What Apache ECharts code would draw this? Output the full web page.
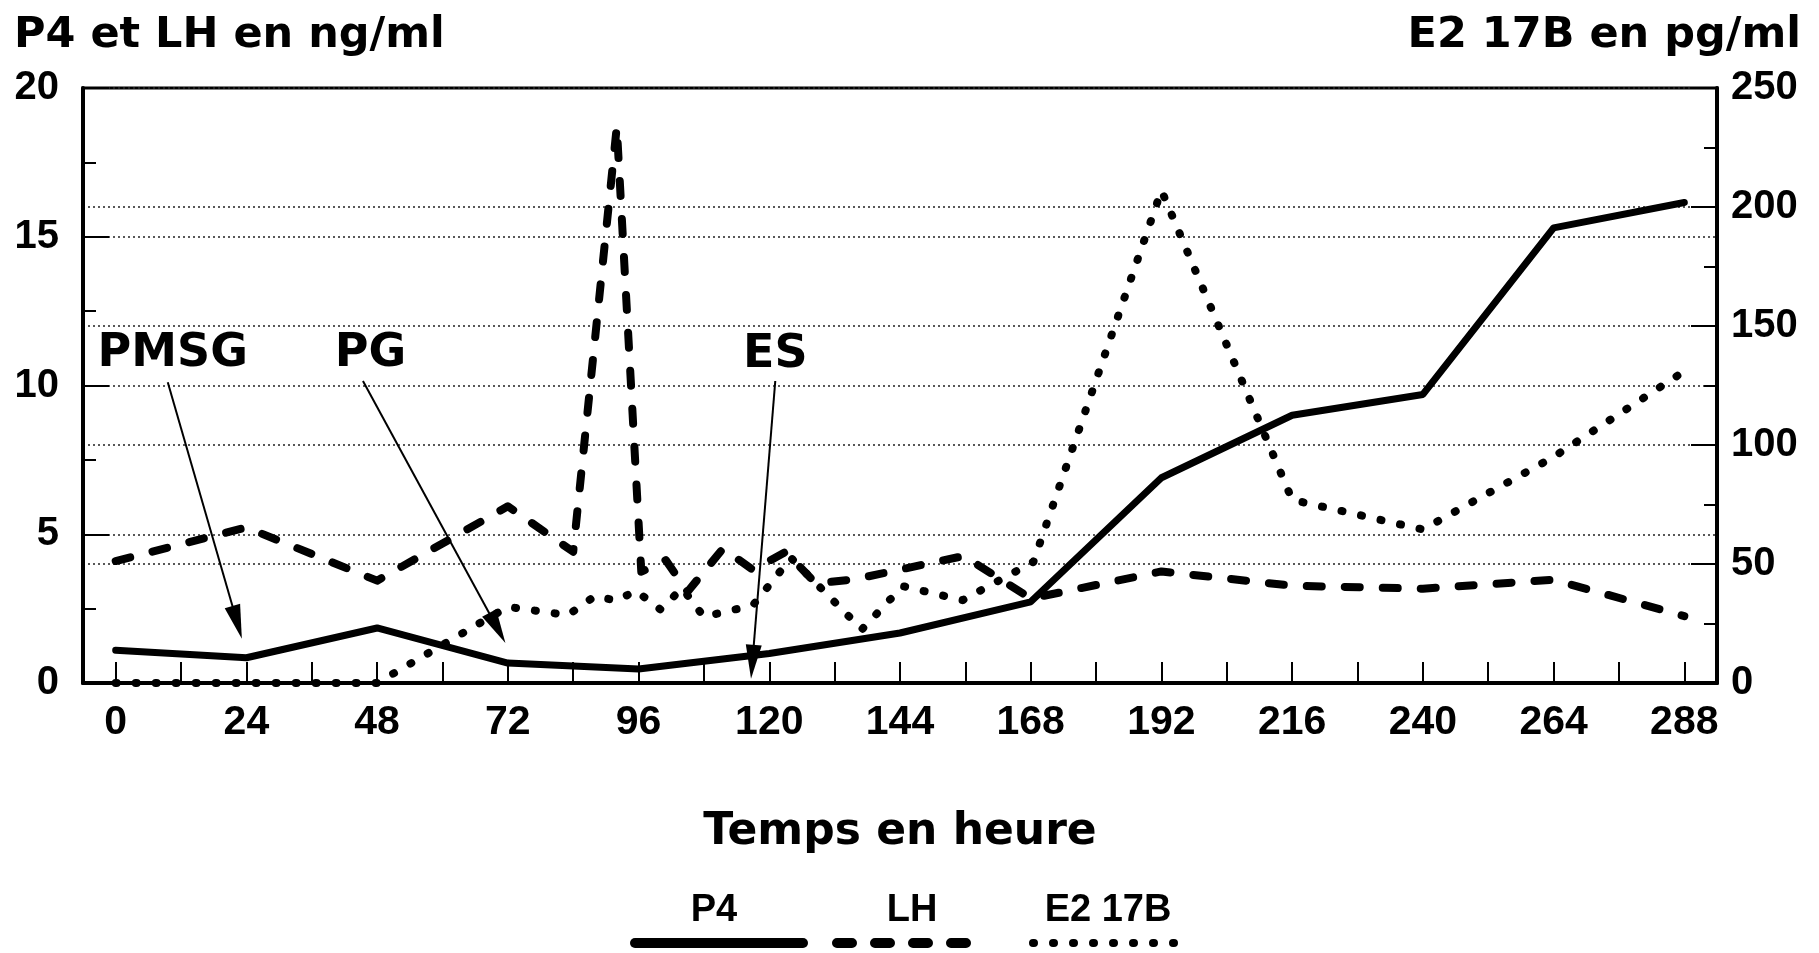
<!DOCTYPE html>
<html>
<head>
<meta charset="utf-8">
<script src="https://cdn.jsdelivr.net/npm/echarts@6/dist/echarts.min.js"></script>
<style>html,body{margin:0;padding:0;background:#fff}#c{width:1819px;height:953px}</style>
</head>
<body>
<div id="c"></div>
<script>
// ---- data ----
const tickHours = [0,12,24,36,48,60,72,84,96,108,120,132,144,156,168,180,192,204,216,228,240,252,264,276,288];
const labelHours = [0,24,48,72,96,120,144,168,192,216,240,264,288];

const p4Hours  = [0,24,48,72,96,120,144,168,192,216,240,264,288];
const p4Values = [1.1,0.85,1.85,0.67,0.47,0.99,1.68,2.73,6.9,9.0,9.7,15.3,16.15];

const lhHours  = [0,24,48,72,84,92,96.5,101,105,111.5,117,123,128.5,135.5,155.7,168,192,216,240,264,288];
const lhValues = [4.1,5.23,3.44,5.94,4.41,18.7,3.74,4.13,3.07,4.52,3.8,4.41,3.35,3.48,4.27,2.84,3.75,3.27,3.17,3.47,2.25];

const e2Hours  = [0,48,72,83,88,92,95.5,100,104,108,117,124,137,144.5,155.5,168.5,192,216,240,264,288];
const e2Values = [0,0,32,28.5,36.5,34.6,38.8,30.9,39.8,27.8,32.7,52.5,22.5,40.7,34.8,50.9,207,77,64.5,95,131];

const annotNames  = ['PMSG','PG','ES'];
const annotText   = [[10.48,11.07],[46.77,11.07],[121.1,11.02]];
const arrowStart  = [[9.56,10.11],[45.4,10.15],[121.1,10.15]];
const arrowEnd    = [[22.3,2.04],[70.06,1.85],[116.9,0.71]];

const legendNames = ['P4','LH','E2 17B'];
// ---------------

const pair = (xs, ys) => xs.map((x, i) => [x, ys[i]]);
const BOLD_DJ = {fontFamily:'DejaVu Sans', fontWeight:'bold', color:'#000'};
const BOLD_LS = {fontFamily:'Liberation Sans', fontWeight:'bold', color:'#000'};
const ARROW = 'path://M8,0 L16,34 L0,34 Z';

const chart = echarts.init(document.getElementById('c'), null, {renderer:'canvas'});

const yCommon = {
  type:'value',
  axisLine:{show:true, onZero:false, lineStyle:{color:'#000', width:4}},
  axisTick:{show:true, inside:true, length:26, lineStyle:{color:'#000', width:2}},
  minorTick:{show:true, splitNumber:2, length:13, lineStyle:{color:'#000', width:2}},
  splitLine:{show:true, lineStyle:{type:[2,3], color:'#222', width:1.5}},
  minorSplitLine:{show:false}
};

chart.setOption({
  animation:false,
  backgroundColor:'#fff',
  title:[
    {text:'P4 et LH en ng/ml', left:14, top:36, padding:0, textVerticalAlign:'middle', textStyle:Object.assign({fontSize:43}, BOLD_DJ)},
    {text:'E2 17B en pg/ml', right:18, top:36, padding:0, textVerticalAlign:'middle', textStyle:Object.assign({fontSize:43}, BOLD_DJ)},
    {text:legendNames[0], left:714, top:911, padding:0, textAlign:'center', textVerticalAlign:'middle', textStyle:Object.assign({fontSize:38}, BOLD_LS)},
    {text:legendNames[1], left:912, top:911, padding:0, textAlign:'center', textVerticalAlign:'middle', textStyle:Object.assign({fontSize:38}, BOLD_LS)},
    {text:legendNames[2], left:1108, top:911, padding:0, textAlign:'center', textVerticalAlign:'middle', textStyle:Object.assign({fontSize:38}, BOLD_LS)}
  ],
  legend:[
    {data:[legendNames[0]], left:630, top:936, padding:0, itemWidth:168, itemHeight:14, selectedMode:false, formatter:()=>'', lineStyle:{width:10}, itemStyle:{color:'rgba(0,0,0,0)', borderWidth:0}},
    {data:[legendNames[1]], left:832, top:936, padding:0, itemWidth:150, itemHeight:14, selectedMode:false, formatter:()=>'', lineStyle:{width:10}, itemStyle:{color:'rgba(0,0,0,0)', borderWidth:0}},
    {data:[legendNames[2]], left:1029, top:936, padding:0, itemWidth:158, itemHeight:14, selectedMode:false, formatter:()=>'', lineStyle:{width:8}, itemStyle:{color:'rgba(0,0,0,0)', borderWidth:0}}
  ],
  grid:{left:83, right:102, top:88, bottom:270, show:true, borderColor:'#000', borderWidth:3, backgroundColor:'rgba(0,0,0,0)', containLabel:false, outerBoundsMode:'none'},
  xAxis:{
    type:'value', min:-6, max:294,
    axisLine:{show:true, onZero:false, lineStyle:{color:'#000', width:4}},
    axisTick:{show:true, inside:true, length:21, customValues:tickHours, lineStyle:{color:'#000', width:2}},
    axisLabel:Object.assign({customValues:labelHours, fontSize:41, margin:19}, BOLD_LS),
    splitLine:{show:false},
    name:'Temps en heure', nameLocation:'middle', nameGap:128,
    nameTextStyle:Object.assign({fontSize:44}, BOLD_DJ)
  },
  yAxis:[
    Object.assign({}, yCommon, {position:'left', min:0, max:20, interval:5,
      axisLabel:Object.assign({fontSize:40, margin:24}, BOLD_LS)}),
    Object.assign({}, yCommon, {position:'right', min:0, max:250, interval:50,
      axisLabel:Object.assign({fontSize:40, margin:14}, BOLD_LS)})
  ],
  series:[
    {
      name:legendNames[0], type:'line', yAxisIndex:0, symbol:'none', z:5,
      data:pair(p4Hours, p4Values),
      itemStyle:{color:'#000'},
      lineStyle:{color:'#000', width:7, cap:'round', join:'round'},
      markLine:{
        silent:true, animation:false,
        symbol:['none','none'],
        lineStyle:{color:'#000', width:2, type:'solid'},
        label:{show:false},
        data:arrowStart.map((s, i) => [
          {coord:s, symbol:'none', symbolSize:0},
          {coord:arrowEnd[i], symbol:ARROW, symbolSize:[16,34]}
        ])
      },
      markPoint:{
        silent:true, animation:false,
        symbol:'rect', symbolSize:1,
        itemStyle:{color:'rgba(0,0,0,0)'},
        label:Object.assign({show:true, position:'inside', formatter:'{b}', fontSize:46}, BOLD_DJ),
        data:annotNames.map((n, i) => ({name:n, coord:annotText[i]}))
      }
    },
    {
      name:legendNames[1], type:'line', yAxisIndex:0, symbol:'none', z:4,
      data:pair(lhHours, lhValues),
      itemStyle:{color:'#000'},
      lineStyle:{color:'#000', width:8, type:[15,23], cap:'round', join:'round'}
    },
    {
      name:legendNames[2], type:'line', yAxisIndex:1, symbol:'none', z:3,
      data:pair(e2Hours, e2Values),
      itemStyle:{color:'#000'},
      lineStyle:{color:'#000', width:8, type:[1,19], cap:'round', join:'round'}
    }
  ]
});
</script>
</body>
</html>
